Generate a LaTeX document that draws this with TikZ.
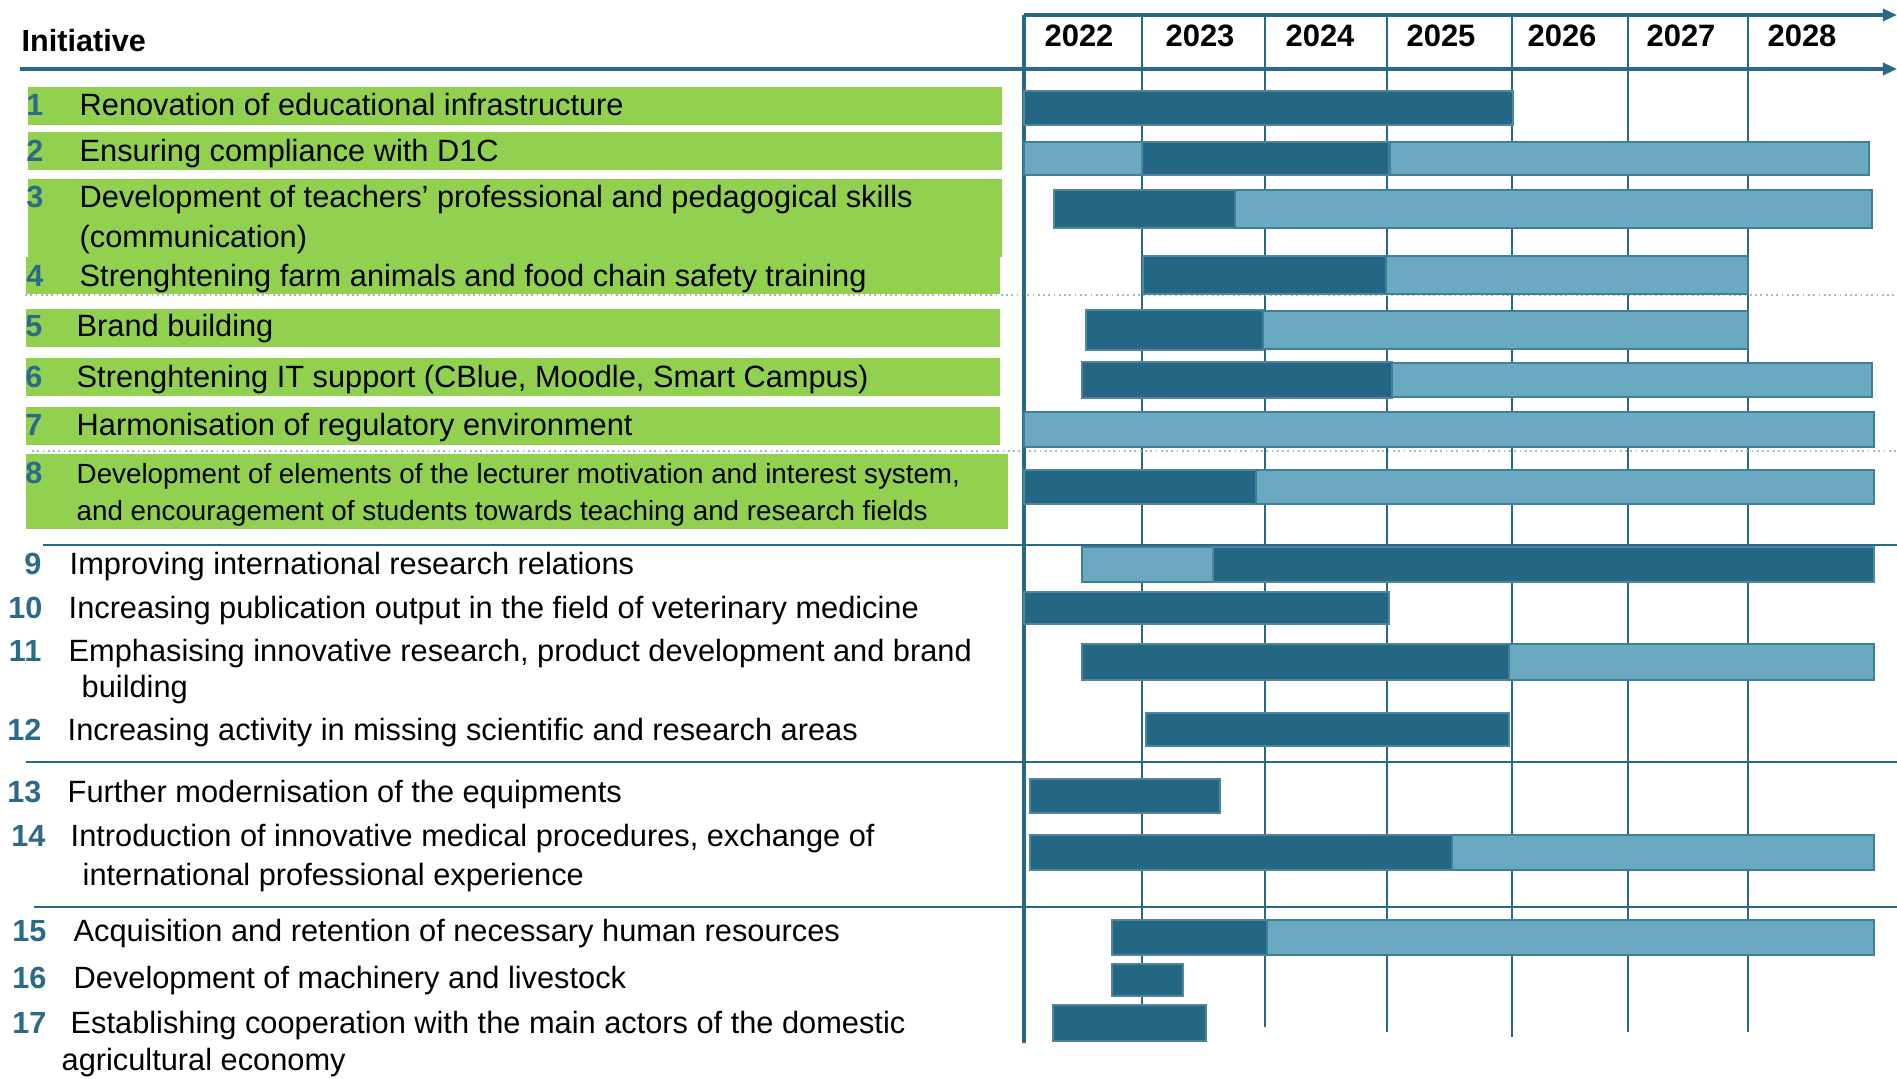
\documentclass[tikz,border=0pt]{standalone}
\usepackage{fontspec}
\setmainfont{Liberation Sans}
\usetikzlibrary{arrows.meta}

\begin{document}
\begin{tikzpicture}[x=0.01cm, y=-0.01cm,
  txt/.style={anchor=base west, inner sep=0pt, font=\fontsize{8.75}{10}\selectfont},
  txtsmall/.style={anchor=base west, inner sep=0pt, font=\fontsize{7.9}{9}\selectfont},
  num/.style={anchor=base east, inner sep=0pt, text=numBlue, font=\fontsize{8.7}{10}\selectfont\bfseries},
  yr/.style={anchor=base, inner sep=0pt, font=\fontsize{8.8}{10}\selectfont\bfseries},
  band/.style={fill=initGreen},
  barDone/.style={fill=barDark, draw=barDark!80!white, line width=0.3pt},
  barPlan/.style={fill=barLight, draw=barEdge, line width=0.6pt},
  yearline/.style={draw=lineBlue, line width=0.6pt},
  rowsep/.style={draw=lineBlue, line width=0.6pt},
  rowdots/.style={draw=lineBlue!45, line width=0.5pt, densely dotted},
  axisline/.style={draw=lineBlue, line width=1.15pt, -{Triangle[length=4pt,width=3.4pt]}}]

% Colori
\definecolor{initGreen}{HTML}{92D050}
\definecolor{barDark}{HTML}{246784}
\definecolor{barLight}{HTML}{6BA9C0}
\definecolor{barEdge}{HTML}{3E7F9A}
\definecolor{lineBlue}{HTML}{286985}
\definecolor{numBlue}{HTML}{2B6A88}

\useasboundingbox (0,0) rectangle (1897,1079);

% Fasce verdi (iniziative 1-8)
\path[band] (28,87) rectangle (1002,125);
\path[band] (28,132) rectangle (1002,170);
\path[band] (28,179) rectangle (1002,257);
\path[band] (26,257) rectangle (1000,294);
\path[band] (26,309) rectangle (1000,347);
\path[band] (26,358) rectangle (1000,396);
\path[band] (26,407) rectangle (1000,445);
\path[band] (26,454) rectangle (1008,529);

% Linee degli anni
\draw[yearline] (1142,15) -- (1142,1032);
\draw[yearline] (1265,15) -- (1265,1027);
\draw[yearline] (1387,15) -- (1387,1032);
\draw[yearline] (1512,15) -- (1512,1037);
\draw[yearline] (1628,15) -- (1628,1032);
\draw[yearline] (1748,15) -- (1748,1032);

% Separatori tra i gruppi
\draw[rowdots] (25,295) -- (1897,295);
\draw[rowdots] (32,451) -- (1897,451);
\draw[rowsep] (43,545) -- (1897,545);
\draw[rowsep] (26,762) -- (1897,762);
\draw[rowsep] (34,907) -- (1897,907);

% Intestazione
\draw[axisline] (1024,15) -- (1897,15);
\draw[axisline] (20,69) -- (1897,69);
\draw[lineBlue, line width=1.3pt] (1024,15) -- (1024,1043);
\node[anchor=base west, inner sep=0pt, font=\fontsize{8.7}{10}\selectfont\bfseries] (head) at (21,52) {Initiative};
\node[yr] (y2022) at (1079,47) {2022};
\node[yr] (y2023) at (1200,47) {2023};
\node[yr] (y2024) at (1320,47) {2024};
\node[yr] (y2025) at (1441,47) {2025};
\node[yr] (y2026) at (1562,47) {2026};
\node[yr] (y2027) at (1681,47) {2027};
\node[yr] (y2028) at (1802,47) {2028};

% Barre
\path[barDone] (1024,91) rectangle (1513,125);
\path[barPlan] (1024,142) rectangle (1142,175);
\path[barDone] (1142,142) rectangle (1389,175);
\path[barPlan] (1390,142) rectangle (1869,175);
\path[barDone] (1054,190) rectangle (1235,228);
\path[barPlan] (1235,190) rectangle (1872,228);
\path[barDone] (1143,256) rectangle (1386,294);
\path[barPlan] (1386,256) rectangle (1748,294);
\path[barDone] (1086,310) rectangle (1263,350);
\path[barPlan] (1263,311) rectangle (1748,349);
\path[barDone] (1082,362) rectangle (1392,398);
\path[barPlan] (1392,363) rectangle (1872,397);
\path[barPlan] (1024,412) rectangle (1874,447);
\path[barDone] (1024,470) rectangle (1256,504);
\path[barPlan] (1256,470) rectangle (1874,504);
\path[barPlan] (1082,547) rectangle (1213,582);
\path[barDone] (1213,547) rectangle (1874,582);
\path[barDone] (1024,592) rectangle (1389,624);
\path[barDone] (1082,644) rectangle (1509,680);
\path[barPlan] (1509,644) rectangle (1874,680);
\path[barDone] (1146,713) rectangle (1509,746);
\path[barDone] (1030,779) rectangle (1220,813);
\path[barDone] (1030,835) rectangle (1452,870);
\path[barPlan] (1452,835) rectangle (1874,870);
\path[barDone] (1112,920) rectangle (1267,955);
\path[barPlan] (1267,920) rectangle (1874,955);
\path[barDone] (1112,964) rectangle (1183,996);
\path[barDone] (1053,1005) rectangle (1206,1041);

% Iniziative
\node[num] (n1) at (44,116) {1};
\node[txt] (t1) at (79,116) {Renovation of educational infrastructure};
\node[num] (n2) at (44,162) {2};
\node[txt] (t2) at (79,162) {Ensuring compliance with D1C};
\node[num] (n3) at (44,208) {3};
\node[txt] (t3) at (79,208) {Development of teachers’ professional and pedagogical skills};
\node[txt] (t3b) at (79,248) {(communication)};
\node[num] (n4) at (44,287) {4};
\node[txt] (t4) at (79,287) {Strenghtening farm animals and food chain safety training};
\node[num] (n5) at (43,337) {5};
\node[txt] (t5) at (76,337) {Brand building};
\node[num] (n6) at (43,387) {6};
\node[txt] (t6) at (76,387) {Strenghtening IT support (CBlue, Moodle, Smart Campus)};
\node[num] (n7) at (43,435) {7};
\node[txt] (t7) at (76,435) {Harmonisation of regulatory environment};
\node[num] (n8) at (43,483) {8};
\node[txtsmall] (t8) at (76,483) {Development of elements of the lecturer motivation and interest system,};
\node[txtsmall] (t8b) at (76,520) {and encouragement of students towards teaching and research fields};

\node[num] (n9) at (42,574) {9};
\node[txt] (t9) at (69,574) {Improving international research relations};
\node[num] (n10) at (43,618) {10};
\node[txt] (t10) at (68,618) {Increasing publication output in the field of veterinary medicine};
\node[num] (n11) at (42,661) {11};
\node[txt] (t11) at (68,661) {Emphasising innovative research, product development and brand};
\node[txt] (t11b) at (81,697) {building};
\node[num] (n12) at (42,740) {12};
\node[txt] (t12) at (67,740) {Increasing activity in missing scientific and research areas};

\node[num] (n13) at (42,802) {13};
\node[txt] (t13) at (67,802) {Further modernisation of the equipments};
\node[num] (n14) at (46,846) {14};
\node[txt] (t14) at (70,846) {Introduction of innovative medical procedures, exchange of};
\node[txt] (t14b) at (82,885) {international professional experience};

\node[num] (n15) at (47,941) {15};
\node[txt] (t15) at (73,941) {Acquisition and retention of necessary human resources};
\node[num] (n16) at (47,988) {16};
\node[txt] (t16) at (73,988) {Development of machinery and livestock};
\node[num] (n17) at (47,1033) {17};
\node[txt] (t17) at (70,1033) {Establishing cooperation with the main actors of the domestic};
\node[txt] (t17b) at (61,1070) {agricultural economy};
\end{tikzpicture}
\end{document}
